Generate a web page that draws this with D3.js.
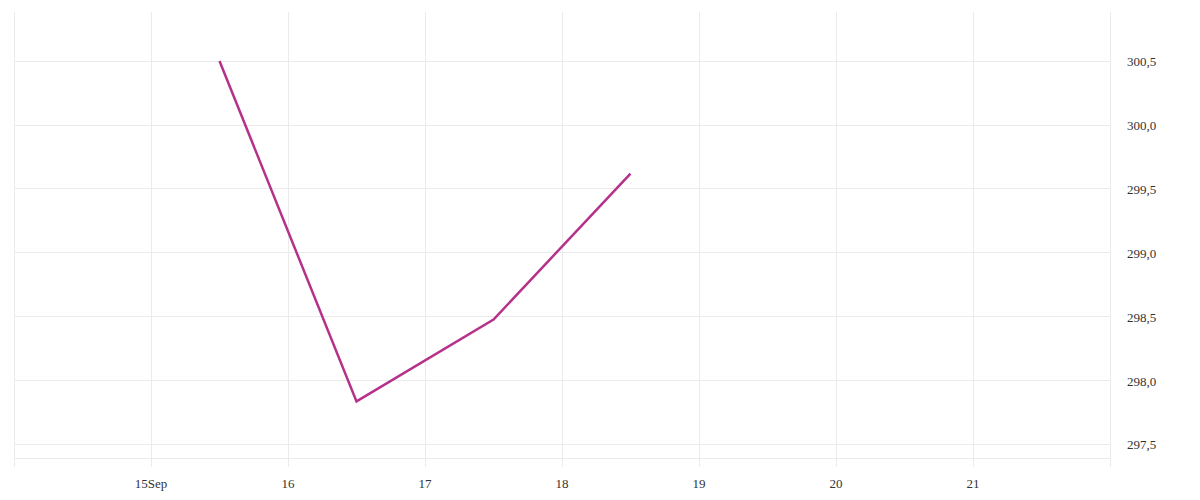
<!DOCTYPE html>
<html>
<head>
<meta charset="utf-8">
<script src="https://cdn.jsdelivr.net/npm/d3@7"></script>
<style>
  body { margin: 0; background: #fff; }
  text { font-family: "Liberation Serif", "DejaVu Serif", serif; }
</style>
</head>
<body>
<div id="chart"></div>
<script>
// data
const dates = ["2020-09-15T12:00", "2020-09-16T12:00", "2020-09-17T12:00", "2020-09-18T12:00"];
const values = [300.5, 297.84, 298.48, 299.62];
const yTicks = [297.5, 298.0, 298.5, 299.0, 299.5, 300.0, 300.5];
const xStart = "2020-09-14", xEnd = "2020-09-22";
const yMin = 297.398, yMax = 300.883;

const width = 1200, height = 500;
const margin = { top: 12, right: 90, bottom: 42, left: 14 };

const parse = d3.isoParse;
const points = dates.map((d, i) => ({ date: parse(d), value: values[i] }));

const svg = d3.select("#chart").append("svg")
    .attr("width", width)
    .attr("height", height);

const x = d3.scaleTime()
    .domain([parse(xStart), parse(xEnd)])
    .range([margin.left, width - margin.right]);

const y = d3.scaleLinear()
    .domain([yMin, yMax])
    .range([height - margin.bottom, margin.top]);

const fmt = d3.formatLocale({ decimal: ",", thousands: ".", grouping: [3], currency: ["", ""] }).format(".1f");
const gridColor = "#ebebeb";

// vertical grid + ticks (they run a bit below the plot)
const xTicks = d3.timeDay.range(parse(xStart), d3.timeDay.offset(parse(xEnd), 1));
svg.append("g")
    .selectAll("line")
    .data(xTicks)
    .join("line")
    .attr("x1", d => x(d)).attr("x2", d => x(d))
    .attr("y1", margin.top).attr("y2", height - margin.bottom + 9)
    .attr("stroke", gridColor)
    .attr("shape-rendering", "crispEdges");

// horizontal grid
svg.append("g")
    .selectAll("line")
    .data(yTicks)
    .join("line")
    .attr("x1", x.range()[0]).attr("x2", x.range()[1])
    .attr("y1", d => y(d)).attr("y2", d => y(d))
    .attr("stroke", gridColor)
    .attr("shape-rendering", "crispEdges");

// bottom edge
svg.append("line")
    .attr("x1", x.range()[0]).attr("x2", x.range()[1])
    .attr("y1", y.range()[0]).attr("y2", y.range()[0])
    .attr("stroke", gridColor)
    .attr("shape-rendering", "crispEdges");

// x labels
svg.append("g")
    .selectAll("text")
    .data(xTicks.filter(d => d > parse(xStart) && d < parse(xEnd)))
    .join("text")
    .attr("x", d => x(d))
    .attr("y", height - margin.bottom + 30)
    .attr("text-anchor", "middle")
    .attr("font-size", 13)
    .attr("fill", "#333")
    .text((d, i) => i === 0 ? d3.timeFormat("%-d")(d) + "Sep" : d3.timeFormat("%-d")(d));

// y labels
svg.append("g")
    .selectAll("text")
    .data(yTicks)
    .join("text")
    .attr("x", x.range()[1] + 17)
    .attr("y", d => y(d))
    .attr("dy", "0.35em")
    .attr("font-size", 13)
    .attr("fill", "#333")
    .text(d => fmt(d));

// line
const line = d3.line()
    .x(d => x(d.date))
    .y(d => y(d.value));

svg.append("path")
    .datum(points)
    .attr("d", line)
    .attr("fill", "none")
    .attr("stroke", "#b5318a")
    .attr("stroke-width", 2.5)
    .attr("stroke-linejoin", "miter");
</script>
</body>
</html>
